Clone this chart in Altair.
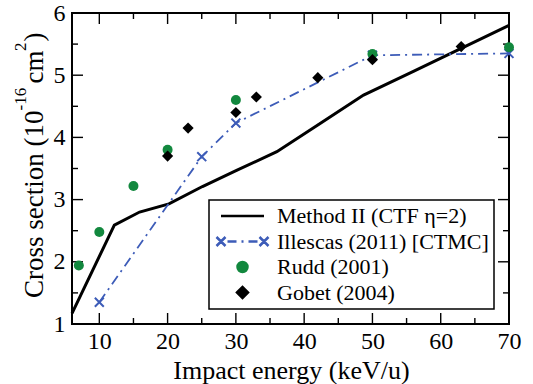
import altair as alt
import pandas as pd

# ---- data ----
m2_x = [6, 12.2, 15.9, 20.2, 25.1, 30.1, 36.0, 42.0, 48.7, 56.0, 63.0, 70]
m2_y = [1.17, 2.59, 2.80, 2.93, 3.21, 3.47, 3.77, 4.20, 4.68, 5.06, 5.43, 5.80]

ill_x = [10, 25, 30, 50, 70]
ill_y = [1.35, 3.69, 4.23, 5.32, 5.35]

rudd_x = [7, 10, 15, 20, 30, 50, 70]
rudd_y = [1.94, 2.48, 3.22, 3.80, 4.60, 5.34, 5.45]

gob_x = [20, 23, 30, 33, 42, 50, 63]
gob_y = [3.70, 4.15, 4.40, 4.65, 4.96, 5.25, 5.46]

series = ["Method II (CTF η=2)", "Illescas (2011) [CTMC]", "Rudd (2001)", "Gobet (2004)"]

x_major = [10, 20, 30, 40, 50, 60, 70]
x_minor = [15, 25, 35, 45, 55, 65]
y_major = [1, 2, 3, 4, 5, 6]
y_minor = [1.5, 2.5, 3.5, 4.5, 5.5]

x_title = "Impact energy (keV/u)"
# y title pieces: (text, superscript?)
y_title_parts = [("Cross section (10", False), ("-16", True), ("cm", False), ("2", True), (")", False)]

# ---- styling ----
W, H = 437, 311
FONT = "Liberation Serif"
BLUE = "#3d5cb8"
GREEN = "#12883e"
MAJ, MIN = 11, 6

xs = alt.Scale(domain=[6, 70], nice=False, zero=False)
ys = alt.Scale(domain=[1, 6], nice=False, zero=False)

x_axis = alt.Axis(values=x_major, format="d", title=x_title, tickSize=0,
                  domain=False, grid=False, labelFont=FONT, labelFontSize=24, labelColor="black",
                  labelPadding=24, labelBaseline="alphabetic", labelOverlap=False, labelFlush=False,
                  titleFont=FONT, titleFontSize=26, titleFontWeight="normal", titleColor="black",
                  titleX=219, titleY=54, titleBaseline="alphabetic", titleAlign="center")
y_axis = alt.Axis(values=y_major, format="d", title=None, tickSize=0,
                  domain=False, grid=False, labelFont=FONT, labelFontSize=24, labelColor="black",
                  labelPadding=7, labelOverlap=False, labelFlush=False)

def X(field):
    return alt.X(field, scale=xs, axis=x_axis)

def Y(field):
    return alt.Y(field, scale=ys, axis=y_axis)

m2 = pd.DataFrame({"x": m2_x, "y": m2_y})
ill = pd.DataFrame({"x": ill_x, "y": ill_y})
rudd = pd.DataFrame({"x": rudd_x, "y": rudd_y})
gob = pd.DataFrame({"x": gob_x, "y": gob_y})

def tick_layers():
    layers = []
    for vals, ln in ((x_major, MAJ), (x_minor, MIN)):
        d = pd.DataFrame({"x": vals})
        layers.append(alt.Chart(d).mark_rule(color="black", strokeWidth=1.4).encode(
            x=X("x:Q"), y=alt.value(H), y2=alt.value(H - ln)))
        layers.append(alt.Chart(d).mark_rule(color="black", strokeWidth=1.4).encode(
            x=X("x:Q"), y=alt.value(0), y2=alt.value(ln)))
    for vals, ln in ((y_major, MAJ), (y_minor, MIN)):
        d = pd.DataFrame({"y": vals})
        layers.append(alt.Chart(d).mark_rule(color="black", strokeWidth=1.4).encode(
            y=Y("y:Q"), x=alt.value(0), x2=alt.value(ln)))
        layers.append(alt.Chart(d).mark_rule(color="black", strokeWidth=1.4).encode(
            y=Y("y:Q"), x=alt.value(W), x2=alt.value(W - ln)))
    return layers

# y-axis title drawn as rotated text pieces so that the exponents are real superscripts
def y_title_layers():
    starts = [285, 97.5, 70.5, 38, 28.5]   # start along the (upward) text direction
    layers = []
    one = pd.DataFrame({"k": [0]})
    for (txt, sup), y0 in zip(y_title_parts, starts):
        layers.append(alt.Chart(one).mark_text(
            text=txt, font=FONT, fontSize=17 if sup else 27, angle=270, align="left",
            baseline="alphabetic", color="black").encode(
            x=alt.value(-46.5 if sup else -28.6), y=alt.value(y0)))
    return layers

line_m2 = alt.Chart(m2).mark_line(color="black", strokeWidth=3).encode(x=X("x:Q"), y=Y("y:Q"))

line_ill = alt.Chart(ill).mark_line(color=BLUE, strokeWidth=1.8, strokeDash=[10, 5, 2, 5]).encode(
    x=X("x:Q"), y=Y("y:Q"))

XPATH = "M-1,-1L1,1M-1,1L1,-1"
pts_ill = alt.Chart(ill).mark_point(shape=XPATH, size=80, filled=False, color=BLUE,
                                    strokeWidth=2, opacity=1).encode(x=X("x:Q"), y=Y("y:Q"))

pts_rudd = alt.Chart(rudd).mark_point(shape="circle", size=100, filled=True, color=GREEN,
                                      opacity=1).encode(x=X("x:Q"), y=Y("y:Q"))

pts_gob = alt.Chart(gob).mark_point(shape="diamond", size=125, filled=True, color="black",
                                    opacity=1).encode(x=X("x:Q"), y=Y("y:Q"))

# legend symbols (custom shapes, in units of 5 px for symbolSize 100)
LINE_SYM = "M-0.8,0L7.8,0"
XDASH_SYM = ("M-1.7,-0.9L0.1,0.9M-1.7,0.9L0.1,-0.9M0.5,0L2.3,0M3.3,0L3.7,0M4.7,0L6.5,0"
             "M6.9,-0.9L8.7,0.9M6.9,0.9L8.7,-0.9")
CIRC_SYM = "M4.5,0A1,1,0,1,1,2.5,0A1,1,0,1,1,4.5,0Z"
DIAM_SYM = "M2.4,0L3.5,-1.1L4.6,0L3.5,1.1Z"

leg = alt.Legend(title=None, orient="none", legendX=137, legendY=187, padding=5,
                 fillColor="white", strokeColor="black", labelFont=FONT, labelFontSize=22,
                 labelColor="black", labelLimit=400, labelOffset=41, rowPadding=3.5,
                 symbolSize=100, symbolStrokeWidth=2.5, symbolOpacity=1)

leg_df = pd.DataFrame({"series": series})
legend_layer = alt.Chart(leg_df).mark_point(opacity=1, strokeWidth=2.5).encode(
    shape=alt.Shape("series:N", scale=alt.Scale(domain=series,
                    range=[LINE_SYM, XDASH_SYM, CIRC_SYM, DIAM_SYM]), legend=leg),
    fill=alt.Fill("series:N", scale=alt.Scale(domain=series,
                  range=["transparent", "transparent", GREEN, "black"]), legend=leg),
    stroke=alt.Stroke("series:N", scale=alt.Scale(domain=series,
                      range=["black", BLUE, GREEN, "black"]), legend=leg),
).transform_filter("false")

chart = alt.layer(
    line_m2, *tick_layers(), line_ill, pts_ill, pts_rudd, pts_gob, legend_layer,
    *y_title_layers()
).properties(
    width=W, height=H,
    autosize=alt.AutoSizeParams(type="none"),
    padding={"left": 72, "top": 13, "right": 24, "bottom": 60},
    background="white",
).configure_view(stroke="black", strokeWidth=2).configure_legend(
    strokeWidth=1.5, labelFont=FONT, labelFontSize=22, labelColor="black")

chart.save("out.html", embed_options={"renderer": "svg", "actions": False})
